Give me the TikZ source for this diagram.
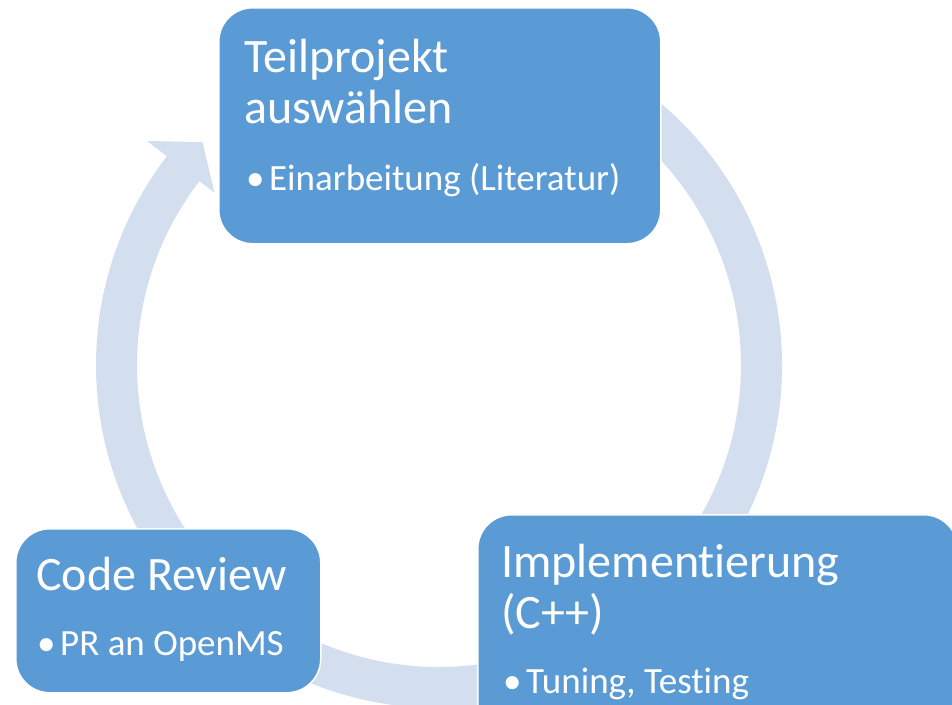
\documentclass[tikz,border=0pt]{standalone}
\usepackage{fontspec}
\setmainfont{Carlito}[Ligatures=NoCommon]
\usepackage{tikz}
\usetikzlibrary{positioning}
\usepackage{xcolor}
\definecolor{boxblue}{RGB}{91,155,213}
\definecolor{ringblue}{RGB}{211,222,239}
\newcommand{\itemdot}{\makebox[23pt][l]{•}}
\tikzset{
  phase/.style={draw=white, line width=1.5pt, fill=boxblue, rounded corners=34pt, anchor=north west, inner sep=0pt},
  headtext/.style={text=white, anchor=base west, inner sep=0pt, font=\fontsize{48}{51}\selectfont},
  itemtext/.style={text=white, anchor=base west, inner sep=0pt, font=\fontsize{37}{42}\selectfont}
}

\begin{document}
\begin{tikzpicture}[x=1pt, y=-1pt]
            \useasboundingbox (0,0) rectangle (952,704);
            \clip (0,0) rectangle (952,704);
            % ring arrow behind the boxes
            \coordinate (Mid) at (439,365);
            \begin{scope}[shift={(Mid)}]
            \fill[ringblue] (-60:343) arc[start angle=-60, end angle=217.5, radius=343]
                -- (217.5:368) -- (223.3:325) -- (217.5:283)
                -- (217.5:302) arc[start angle=217.5, end angle=-60, radius=302] -- cycle;
            \end{scope}
            % step 1
            \node[phase, minimum width=442pt, minimum height=236pt] (Teil) at (218,7) {};
            \node[headtext] (TeilA) at (244,72) {Teilprojekt};
            \node[headtext] (TeilB) at (244,123) {auswählen};
            \node[itemtext] (TeilC) at (246,190) {\itemdot Einarbeitung (Literatur)};
            % step 2
            \node[phase, minimum width=480pt, minimum height=236pt] (Impl) at (477,514) {};
            \node[headtext] (ImplA) at (501,577) {Implementierung};
            \node[headtext] (ImplB) at (501,628) {(C++)};
            \node[itemtext] (ImplC) at (503,693) {\itemdot Tuning, Testing};
            % step 3
            \node[phase, minimum width=305pt, minimum height=164pt] (Rev) at (15,528) {};
            \node[headtext] (RevA) at (36,590) {Code Review};
            \node[itemtext] (RevB) at (37,655) {\itemdot PR an OpenMS};
        \end{tikzpicture}
\end{document}
